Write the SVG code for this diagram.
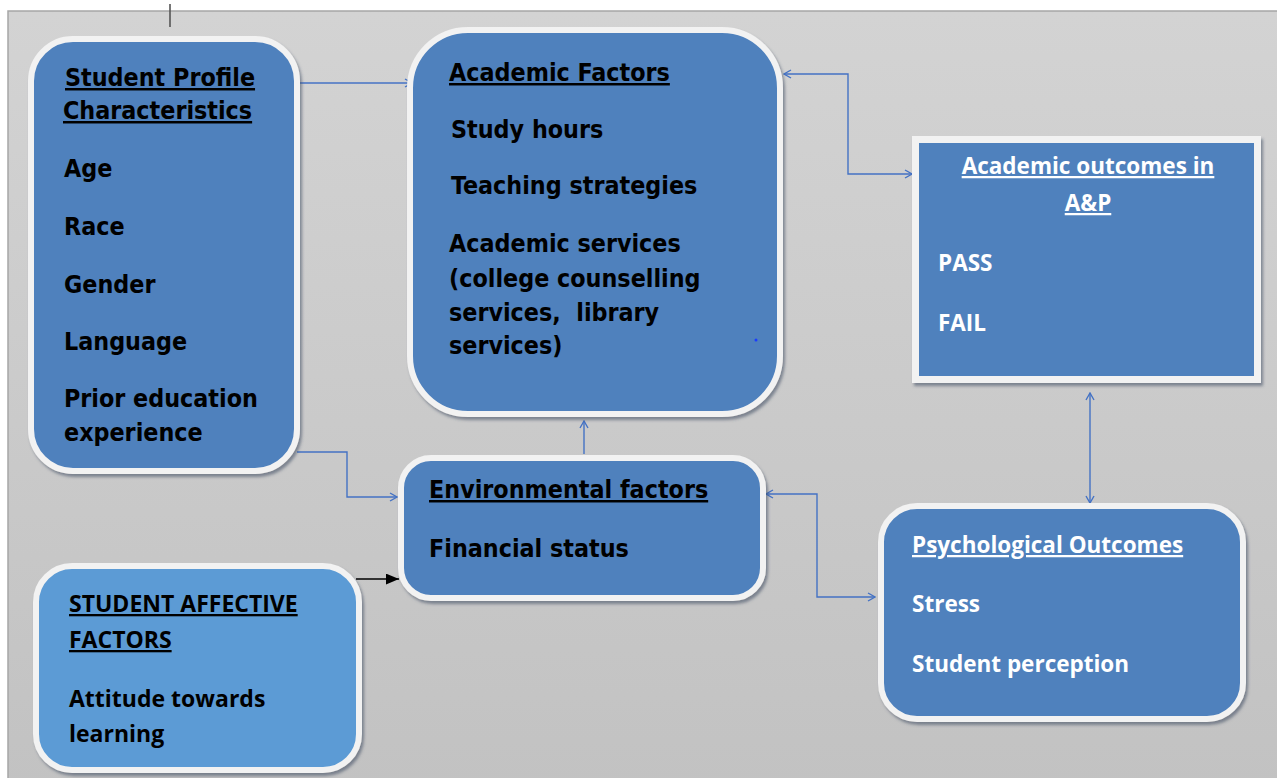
<svg xmlns="http://www.w3.org/2000/svg" width="1277" height="778" viewBox="0 0 1277 778">
<defs>
<linearGradient id="bg" x1="0" y1="0" x2="0" y2="1">
<stop offset="0" stop-color="#d3d3d3"/>
<stop offset="1" stop-color="#c2c2c2"/>
</linearGradient>
<filter id="sh" x="-10%" y="-10%" width="125%" height="125%">
<feDropShadow dx="2" dy="3" stdDeviation="1.5" flood-color="#3a4a60" flood-opacity="0.55"/>
</filter>
<marker id="ah" viewBox="0 0 10 10" refX="9" refY="5" markerWidth="10" markerHeight="10" markerUnits="userSpaceOnUse" orient="auto-start-reverse">
<path d="M2,1 L9,5 L2,9" fill="none" stroke="#4472c4" stroke-width="1.4"/>
</marker>
<marker id="ahb" viewBox="0 0 12 10" refX="12" refY="5" markerWidth="13" markerHeight="11" markerUnits="userSpaceOnUse" orient="auto">
<path d="M0,0 L12,5 L0,10 Z" fill="#000"/>
</marker>
<style>
.box{fill:#4f81bd;stroke:#f2f2f2;stroke-width:6;filter:url(#sh)}
.lt{fill:#5b9bd5}
.bk{font-family:"DejaVu Sans Condensed","Liberation Sans",sans-serif;font-weight:bold;font-size:24.8px;fill:#000}
.wt{font-family:"Open Sans","Liberation Sans",sans-serif;font-weight:bold;font-size:22.5px;fill:#fff}
.af{font-family:"Open Sans","Liberation Sans",sans-serif;font-weight:bold;font-size:23px;fill:#000}
.u{text-decoration:underline}
.c{fill:none;stroke:#4472c4;stroke-width:1.4}
</style>
</defs>
<rect x="8" y="11" width="1275" height="775" fill="url(#bg)" stroke="#a6a6a6" stroke-width="1.5"/>
<line x1="170" y1="4" x2="170" y2="27" stroke="#555" stroke-width="1.6"/>

<g id="connectors">
<path class="c" d="M297,83 L412,83" marker-end="url(#ah)"/>
<path class="c" d="M784,74 L848,74 L848,174 L912,174" marker-start="url(#ah)" marker-end="url(#ah)"/>
<path class="c" d="M297,452 L347,452 L347,497 L397,497" marker-end="url(#ah)"/>
<path class="c" d="M584,454 L584,421" marker-end="url(#ah)"/>
<path class="c" d="M766,494 L817,494 L817,597 L875,597" marker-start="url(#ah)" marker-end="url(#ah)"/>
<path class="c" d="M1090,393 L1090,503" marker-start="url(#ah)" marker-end="url(#ah)"/>
<path d="M356,579 L399,579" stroke="#000" stroke-width="1.5" fill="none" marker-end="url(#ahb)"/>
</g>

<g id="student-profile">
<rect class="box" x="31" y="39" width="266" height="432" rx="42"/>
<text class="bk u" x="65" y="86">Student Profile</text>
<text class="bk u" x="63" y="119">Characteristics</text>
<text class="bk" x="64" y="177">Age</text>
<text class="bk" x="64" y="235">Race</text>
<text class="bk" x="64" y="293">Gender</text>
<text class="bk" x="64" y="350">Language</text>
<text class="bk" x="64" y="407">Prior education</text>
<text class="bk" x="64" y="441">experience</text>
</g>

<g id="academic-factors">
<rect class="box" x="410" y="30" width="370" height="384" rx="58"/>
<text class="bk u" x="449" y="81">Academic Factors</text>
<text class="bk" x="451" y="138">Study hours</text>
<text class="bk" x="451" y="194">Teaching strategies</text>
<text class="bk" x="449" y="252">Academic services</text>
<text class="bk" x="449" y="287">(college counselling</text>
<text class="bk" x="449" y="321" xml:space="preserve">services,  library</text>
<text class="bk" x="449" y="354">services)</text>
<circle cx="756" cy="340" r="1.5" fill="#1a3cff"/>
</g>

<g id="academic-outcomes">
<rect x="915.5" y="139.5" width="342" height="240" fill="#4f81bd" stroke="#f2f2f2" stroke-width="7" filter="url(#sh)"/>
<text class="wt u" x="1088" y="174" text-anchor="middle">Academic outcomes in</text>
<text class="wt u" x="1088" y="211" text-anchor="middle">A&amp;P</text>
<text class="wt" x="938" y="271">PASS</text>
<text class="wt" x="938" y="331">FAIL</text>
</g>

<g id="environmental-factors">
<rect class="box" x="401" y="458" width="362" height="140" rx="30"/>
<text class="bk u" x="429" y="498">Environmental factors</text>
<text class="bk" x="429" y="557">Financial status</text>
</g>

<g id="student-affective">
<rect class="box lt" x="36" y="566" width="323" height="204" rx="36"/>
<text class="af u" x="69" y="612">STUDENT AFFECTIVE</text>
<text class="af u" x="69" y="648">FACTORS</text>
<text class="af" x="69" y="707">Attitude towards</text>
<text class="af" x="69" y="742">learning</text>
</g>

<g id="psychological-outcomes">
<rect class="box" x="881" y="506" width="362" height="213" rx="36"/>
<text class="wt u" x="912" y="553">Psychological Outcomes</text>
<text class="wt" x="912" y="612">Stress</text>
<text class="wt" x="912" y="672">Student perception</text>
</g>
</svg>
